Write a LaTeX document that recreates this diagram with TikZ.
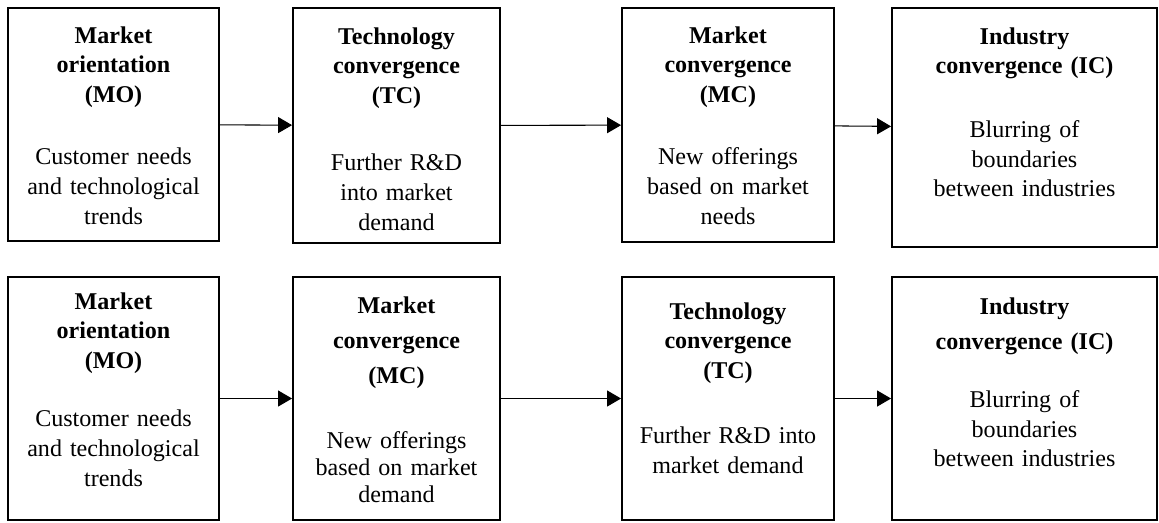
\documentclass[tikz,border=0pt]{standalone}
\usepackage{fontspec}
\setmainfont{Liberation Serif}
\usetikzlibrary{arrows.meta, positioning}

\begin{document}
\begin{tikzpicture}[x=0.02cm, y=-0.02cm,
  box/.style={draw, line width=1.1pt, inner sep=0pt},
  txt/.style={align=center, text width=4cm, inner sep=0pt, font=\fontsize{13.7pt}{17pt}\selectfont},
  flow/.style={-{Triangle[length=0.28cm, width=0.32cm]}, line width=0.6pt}]
 \useasboundingbox (0, 0) rectangle (1159, 522);
 % first chain
 \node[box, minimum width=4.22cm, minimum height=4.66cm] (MO1) at (113.5, 124.5) {};
 \node[box, minimum width=4.14cm, minimum height=4.70cm] (TC1) at (396.5, 125.5) {};
 \node[box, minimum width=4.24cm, minimum height=4.68cm] (MC1) at (728, 125) {};
 \node[box, minimum width=5.30cm, minimum height=4.78cm] (IC1) at (1024.5, 127.5) {};
 \node[txt, below=0.38cm of MO1.north] (MO1t) {\textbf{Market\\orientation\\(MO)}\\[18pt]Customer needs\\and technological\\trends};
 \node[txt, below=0.40cm of TC1.north] (TC1t) {\textbf{Technology\\convergence\\(TC)}\\[21pt]Further R\&D\\into market\\demand};
 \node[txt, below=0.38cm of MC1.north] (MC1t) {\textbf{Market\\convergence\\(MC)}\\[18pt]New offerings\\based on market\\needs};
 \node[txt, below=0.40cm of IC1.north] (IC1t) {\textbf{Industry\\convergence (IC)}\\[19pt]Blurring of\\boundaries\\between industries};
 \draw[flow] (MO1) -- (TC1);
 \draw[flow] (TC1) -- (MC1);
 \draw[flow] (MC1) -- (IC1);
 % second chain
 \node[box, minimum width=4.22cm, minimum height=4.86cm] (MO2) at (113.5, 398.5) {};
 \node[box, minimum width=4.14cm, minimum height=4.86cm] (MC2) at (396.5, 398.5) {};
 \node[box, minimum width=4.24cm, minimum height=4.86cm] (TC2) at (728, 398.5) {};
 \node[box, minimum width=5.30cm, minimum height=4.86cm] (IC2) at (1024.5, 398.5) {};
 \node[txt, below=0.32cm of MO2.north] (MO2t) {\textbf{Market\\orientation\\(MO)}\\[16pt]Customer needs\\and technological\\trends};
 \node[txt, below=0.40cm of MC2.north] (MC2t) {\textbf{Market\\[3pt]convergence\\[3pt](MC)}\\[20pt]New offerings\\[-1.5pt]based on market\\[-1.5pt]demand};
 \node[txt, below=0.52cm of TC2.north] (TC2t) {\textbf{Technology\\convergence\\(TC)}\\[20pt]Further R\&D into\\market demand};
 \node[txt, below=0.42cm of IC2.north] (IC2t) {\textbf{Industry\\[3pt]convergence (IC)}\\[16pt]Blurring of\\boundaries\\between industries};
 \draw[flow] (MO2) -- (MC2);
 \draw[flow] (MC2) -- (TC2);
 \draw[flow] (TC2) -- (IC2);
\end{tikzpicture}
\end{document}
